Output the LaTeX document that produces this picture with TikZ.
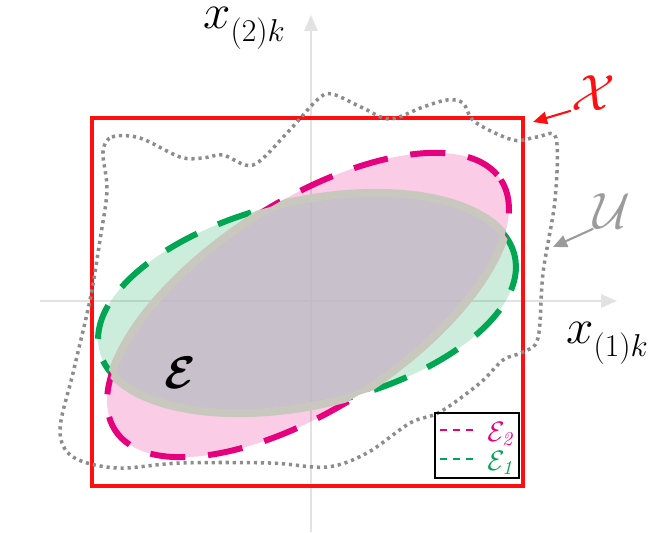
\RequirePackage{fix-cm}
\documentclass[tikz,border=0pt]{standalone}
\usepackage{amsmath}
\usepackage{tikz}
\usetikzlibrary{arrows.meta}
\definecolor{boxred}{RGB}{255,15,15}
\definecolor{setpink}{RGB}{230,0,126}
\definecolor{setgreen}{RGB}{0,166,81}
\definecolor{dotgray}{RGB}{140,140,140}
\definecolor{labelgray}{RGB}{155,155,155}
\definecolor{lensgray}{RGB}{200,200,190}
\definecolor{lensfill}{RGB}{198,194,203}
\definecolor{axisgray}{RGB}{226,226,226}

\tikzset{
  axisline/.style={draw=axisgray, line width=1.1pt, -{Triangle[length=9pt,width=7.5pt]}},
  setfill/.style={fill=#1, fill opacity=0.2},
  setedge/.style={draw=#1, line width=3.4pt, dash pattern=on 20pt off 13pt},
  lensarea/.style={fill=lensfill, fill opacity=0.75},
  lensedge/.style={draw=lensgray, line width=4.6pt},
  boxedge/.style={draw=boxred, line width=2.8pt},
  uncertain/.style={draw=dotgray, line width=2pt, dash pattern=on 1.8pt off 2.2pt},
  pointer/.style={-{Triangle[length=8pt,width=7pt]}, line width=1.2pt},
  legdash/.style={draw=#1, line width=1.2pt, dash pattern=on 4pt off 3.4pt},
  oneframe/.style={shift={(307,303)}, rotate=12.8},
  twoframe/.style={shift={(308,305)}, rotate=33},
  axistitle/.style={font=\fontsize{28}{32}\selectfont, inner sep=0pt, anchor=base west},
  setname/.style={font=\fontsize{29}{34}\selectfont, inner sep=0pt}
}
\newcommand{\subidx}[1]{\raisebox{-7.5pt}{\fontsize{18}{22}\selectfont$#1$}}

\begin{document}
\begin{tikzpicture}[x=0.02cm, y=-0.02cm]
  \useasboundingbox (0,0) rectangle (655,532);
  \coordinate (hstart) at (40,301);
  \coordinate (hend) at (617,301);
  \coordinate (vstart) at (311,532);
  \coordinate (vend) at (311,15);
  \draw[axisline] (hstart) -- (hend);
  \draw[axisline] (vstart) -- (vend);

  \path[setfill=setgreen, oneframe] (0,0) ellipse [x radius=213, y radius=102];
  \path[setfill=setpink, twoframe] (0,0) ellipse [x radius=230, y radius=103];
  \path[setedge=setgreen, oneframe] (0,0) ellipse [x radius=213, y radius=102];
  \path[setedge=setpink, twoframe] (0,0) ellipse [x radius=230, y radius=103];
  \begin{scope}
    \clip[oneframe] (0,0) ellipse [x radius=213, y radius=102];
    \path[lensarea, twoframe] (0,0) ellipse [x radius=230, y radius=103];
    \path[lensedge, twoframe] (0,0) ellipse [x radius=230, y radius=103];
  \end{scope}
  \begin{scope}
    \clip[twoframe] (0,0) ellipse [x radius=230, y radius=103];
    \path[lensedge, oneframe] (0,0) ellipse [x radius=213, y radius=102];
  \end{scope}

  \draw[boxedge] (92,118) rectangle (523,486);

  \draw[uncertain] plot[smooth cycle, tension=0.55] coordinates {
    (103,152) (112,137) (140,138) (180,157) (203,158) (223,155) (253,165)
    (287,133) (317,100) (332,94) (363,108) (390,119) (423,107) (447,100)
    (463,103) (475,122) (513,140) (537,137) (556,138) (555,200) (543,273)
    (538,338) (523,352) (503,360) (480,383) (440,412) (410,423) (367,453)
    (327,467) (270,463) (180,463) (117,468) (73,457) (60,430) (73,373)
    (90,300) (100,240) (107,190)};

  \node[axistitle] (vtitle) at (203,28) {$x$\subidx{(2)k}};
  \node[axistitle] (htitle) at (566,343) {$x$\subidx{(1)k}};

  \node[setname, text=boxred] (xset) at (593,93) {$\mathcal{X}$};
  \coordinate (xsettip) at (533,122);
  \draw[pointer, boxred] (xset.south west) -- (xsettip);

  \node[setname, text=labelgray] (uset) at (612,211) {$\mathcal{U}$};
  \coordinate (usettip) at (553,247);
  \draw[pointer, labelgray] (uset.south west) -- (usettip);

  \node[font=\fontsize{26}{30}\selectfont, inner sep=0pt] (lens) at (180,373) {$\boldsymbol{\mathcal{E}}$};

  \node[draw=black, line width=0.6pt, minimum width=1.68cm, minimum height=1.3cm, inner sep=0pt] (legend) at (477,445.5) {};
  \node[font=\fontsize{16}{19}\selectfont, text=setpink, inner sep=0pt, anchor=base west] (legtwo) at (487,441) {$\mathcal{E}_{\mathit{2}}$};
  \node[font=\fontsize{16}{19}\selectfont, text=setgreen, inner sep=0pt, anchor=base west] (legone) at (487,470) {$\mathcal{E}_{\mathit{1}}$};
  \coordinate (legtwodash) at (440,430);
  \coordinate (legonedash) at (440,459);
  \draw[legdash=setpink] (legtwodash) -- ++(34,0);
  \draw[legdash=setgreen] (legonedash) -- ++(34,0);
\end{tikzpicture}
\end{document}
